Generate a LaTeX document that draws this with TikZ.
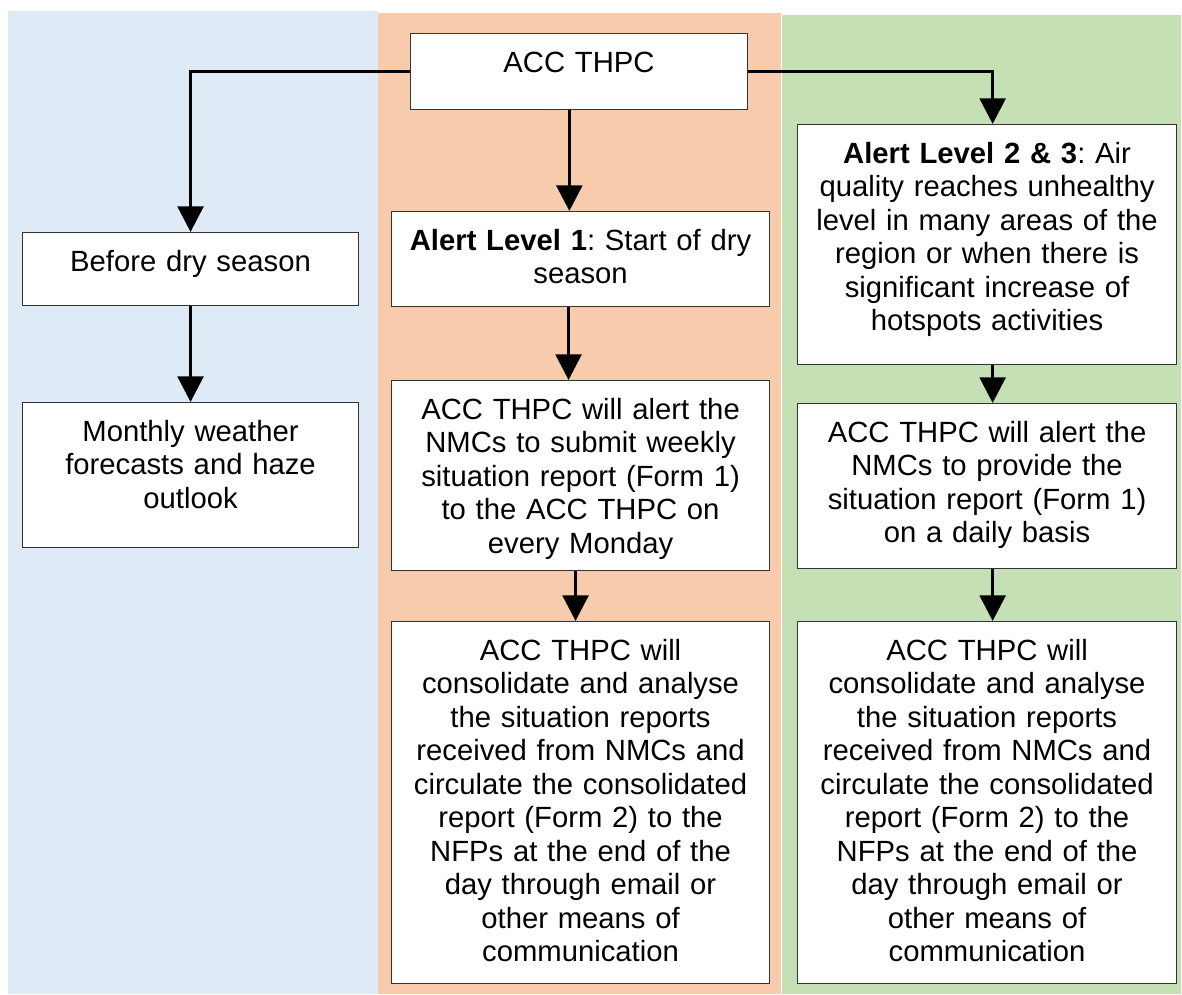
\documentclass[tikz,border=0pt]{standalone}
\usepackage{fontspec}
\setmainfont{Liberation Sans}
\frenchspacing
\usetikzlibrary{positioning,arrows.meta}
\definecolor{bandblue}{HTML}{DEEBF7}
\definecolor{bandorange}{HTML}{F8CBAD}
\definecolor{bandgreen}{HTML}{C5E0B4}
\tikzset{
  flowarrow/.style={-{Triangle[width=0.64cm,length=0.64cm]}, line width=0.09cm},
  stagebox/.style={draw=black!80, line width=0.7pt, fill=white, align=center, inner xsep=0pt, inner ysep=0pt, text height=0.975cm, anchor=north west},
  leftbox/.style={stagebox, text width=8.4cm},
  midbox/.style={stagebox, text width=9.45cm},
  rightbox/.style={stagebox, text width=9.475cm}
}
\begin{document}
\begin{tikzpicture}[x=0.025cm, y=-0.025cm, every node/.style={font=\fontsize{20.8}{23.8}\selectfont}]
      \useasboundingbox (0,0) rectangle (1182,994);
      % coloured bands
      \fill[bandblue] (8,11) rectangle (378,994);
      \fill[bandorange] (378,13) rectangle (781,994);
      \fill[bandgreen] (782,15) rectangle (1181,994);
      % boxes
      \node[stagebox, text width=8.425cm, text depth=0.925cm] (acc) at (410,33) {ACC THPC};
      \node[leftbox, text depth=0.85cm] (before) at (22,232) {Before dry season};
      \node[leftbox, text depth=2.65cm] (monthly) at (22,402) {Monthly weather\\forecasts and haze\\outlook};
      \node[midbox, text depth=1.4cm] (lvl1) at (391,211) {\textbf{Alert Level 1}: Start of dry\\season};
      \node[midbox, text depth=3.775cm] (weekly) at (391,380) {ACC THPC will alert the\\NMCs to submit weekly\\situation report (Form 1)\\to the ACC THPC on\\every Monday};
      \node[midbox, text depth=8.075cm] (consolmid) at (391,621) {ACC THPC will\\consolidate and analyse\\the situation reports\\received from NMCs and\\circulate the consolidated\\report (Form 2) to the\\NFPs at the end of the\\day through email or\\other means of\\communication};
      \node[rightbox, text depth=5.025cm] (lvl23) at (797,124) {\textbf{Alert Level 2 \& 3}: Air\\quality reaches unhealthy\\level in many areas of the\\region or when there is\\significant increase of\\hotspots activities};
      \node[rightbox, text depth=3.15cm] (daily) at (797,403) {ACC THPC will alert the\\NMCs to provide the\\situation report (Form 1)\\on a daily basis};
      \node[rightbox, text depth=8.075cm] (consolright) at (797,621) {ACC THPC will\\consolidate and analyse\\the situation reports\\received from NMCs and\\circulate the consolidated\\report (Form 2) to the\\NFPs at the end of the\\day through email or\\other means of\\communication};
      % arrows
      \draw[flowarrow] (acc.west) -| (before.north);
      \draw[flowarrow] (acc.east) -| ([xshift=0.14cm]lvl23.north);
      \draw[flowarrow] ([xshift=-0.28cm]lvl1.north |- acc.south) -- ([xshift=-0.28cm]lvl1.north);
      \draw[flowarrow] (before) -- (monthly);
      \draw[flowarrow] ([xshift=-0.3cm]weekly.north |- lvl1.south) -- ([xshift=-0.3cm]weekly.north);
      \draw[flowarrow] ([xshift=-0.125cm]consolmid.north |- weekly.south) -- ([xshift=-0.125cm]consolmid.north);
      \draw[flowarrow] ([xshift=0.14cm]daily.north |- lvl23.south) -- ([xshift=0.14cm]daily.north);
      \draw[flowarrow] ([xshift=0.14cm]consolright.north |- daily.south) -- ([xshift=0.14cm]consolright.north);
    \end{tikzpicture}
\end{document}
